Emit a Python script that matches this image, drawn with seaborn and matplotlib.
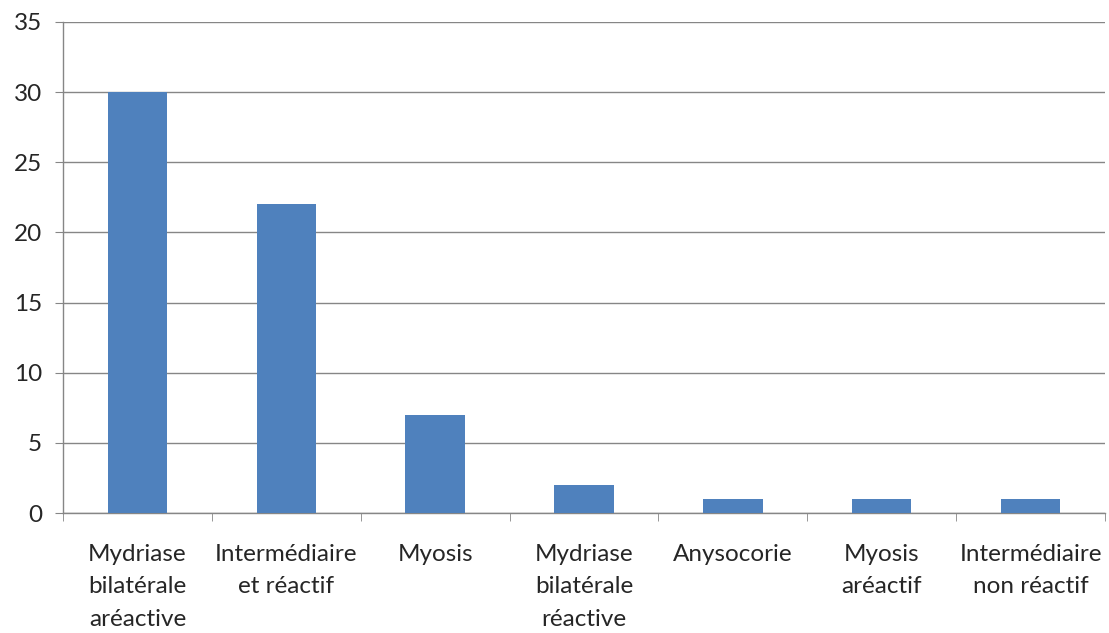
import matplotlib
matplotlib.use("Agg")
import matplotlib.pyplot as plt
import seaborn as sns
import numpy as np

categories = ["Mydriase\nbilatérale\naréactive", "Intermédiaire\net réactif", "Myosis",
              "Mydriase\nbilatérale\nréactive", "Anysocorie", "Myosis\naréactif",
              "Intermédiaire\nnon réactif"]
values = [30, 22, 7, 2, 1, 1, 1]

sns.set_style("white")
plt.rcParams['font.family'] = ['Lato', 'DejaVu Sans']

fig = plt.figure(figsize=(11.09, 6.33), dpi=100)
ax = fig.add_axes([63/1109, 1-513/633, (1105-63)/1109, (513-22)/633])

sns.barplot(x=categories, y=values, color="#4F81BD", saturation=1, width=0.4,
            linewidth=0, ax=ax, zorder=3)

gray = "#868686"
ax.set_ylim(0, 35)
ax.set_yticks(range(0, 36, 5))
ax.set_xlim(-0.5, len(categories) - 0.5)
ax.yaxis.grid(True, color=gray, linewidth=1, zorder=0)
ax.set_axisbelow(True)
for s in ["top", "right"]:
    ax.spines[s].set_visible(False)
for s in ["left", "bottom"]:
    ax.spines[s].set_color(gray)
    ax.spines[s].set_linewidth(1)

ax.set_xticks(np.arange(-0.5, len(categories)), minor=True)
ax.tick_params(axis="x", which="major", length=0, pad=22, labelsize=17.5)
ax.tick_params(axis="x", which="minor", length=6, color=gray, direction="out", bottom=True)
ax.tick_params(axis="y", length=6, color=gray, direction="out", left=True, labelsize=17.5, pad=9)
for lab in ax.get_xticklabels():
    lab.set_linespacing(1.68)
    lab.set_verticalalignment("top")

fig.savefig("out.png", dpi=100)
